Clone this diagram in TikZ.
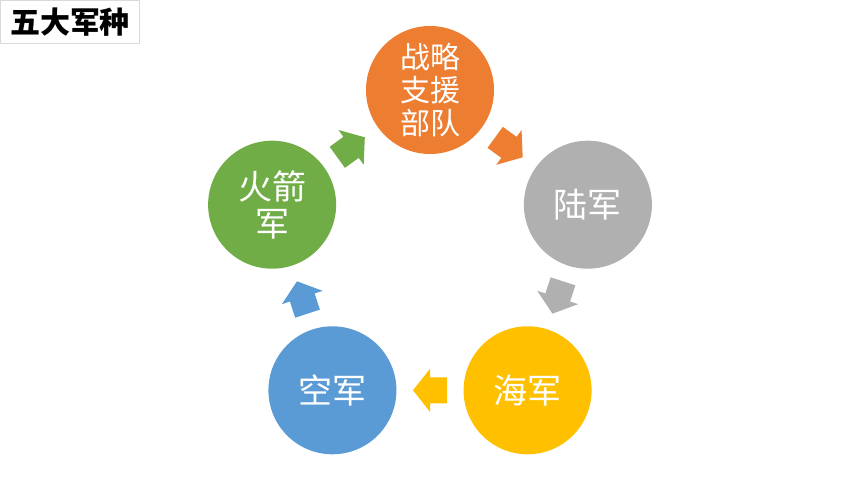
\documentclass[tikz,border=0pt]{standalone}
\usepackage{fontspec}
\newfontfamily\cjk{Noto Sans CJK SC}
\usetikzlibrary{calc}
\definecolor{corange}{HTML}{ED7D31}
\definecolor{cgray}{HTML}{B0B0B0}
\definecolor{cyellow}{HTML}{FFC000}
\definecolor{cblue}{HTML}{5B9BD5}
\definecolor{cgreen}{HTML}{70AD47}
\definecolor{boxline}{HTML}{D9D9D9}
\tikzset{
  ring/.style={circle, minimum size=128pt, inner sep=0pt, text=white,
    font=\cjk\fontsize{34}{37}\selectfont, align=center},
  smalltext/.style={font=\cjk\fontsize{30}{33}\selectfont},
  blockarrow/.pic={\fill (-17,-13) -- (0,-13) -- (0,-21.5) -- (17,0) -- (0,21.5) -- (0,13) -- (-17,13) -- cycle;},
  titlebox/.style={draw=boxline, line width=1pt, inner sep=0pt, minimum width=139pt, minimum height=43pt,
    font=\cjk\bfseries\fontsize{30}{32}\selectfont, anchor=north west}
}
\begin{document}
\begin{tikzpicture}[x=1pt,y=1pt]
\useasboundingbox (0,0) rectangle (860,484);
\fill[white] (0,0) rectangle (860,484);
\node[titlebox] (title) at (0,484) {五大军种};
\coordinate (c) at (430,228);
\node[ring, smalltext, fill=corange] (zl) at ($(c)+(90:166)$) {战略\\支援\\部队};
\node[ring, fill=cgray] (lj) at ($(c)+(18:166)$) {陆军};
\node[ring, fill=cyellow] (hj) at ($(c)+(-54:166)$) {海军};
\node[ring, fill=cblue] (kj) at ($(c)+(-126:166)$) {空军};
\node[ring, fill=cgreen] (hjj) at ($(c)+(162:166)$) {火箭\\军};
\pic[corange, rotate=-36] at ($(zl)!0.5!(lj)$) {blockarrow};
\pic[cgray, rotate=-108] at ($(lj)!0.5!(hj)$) {blockarrow};
\pic[cyellow, rotate=180] at ($(hj)!0.5!(kj)$) {blockarrow};
\pic[cblue, rotate=108] at ($(kj)!0.5!(hjj)$) {blockarrow};
\pic[cgreen, rotate=36] at ($(hjj)!0.5!(zl)$) {blockarrow};
\end{tikzpicture}
\end{document}
